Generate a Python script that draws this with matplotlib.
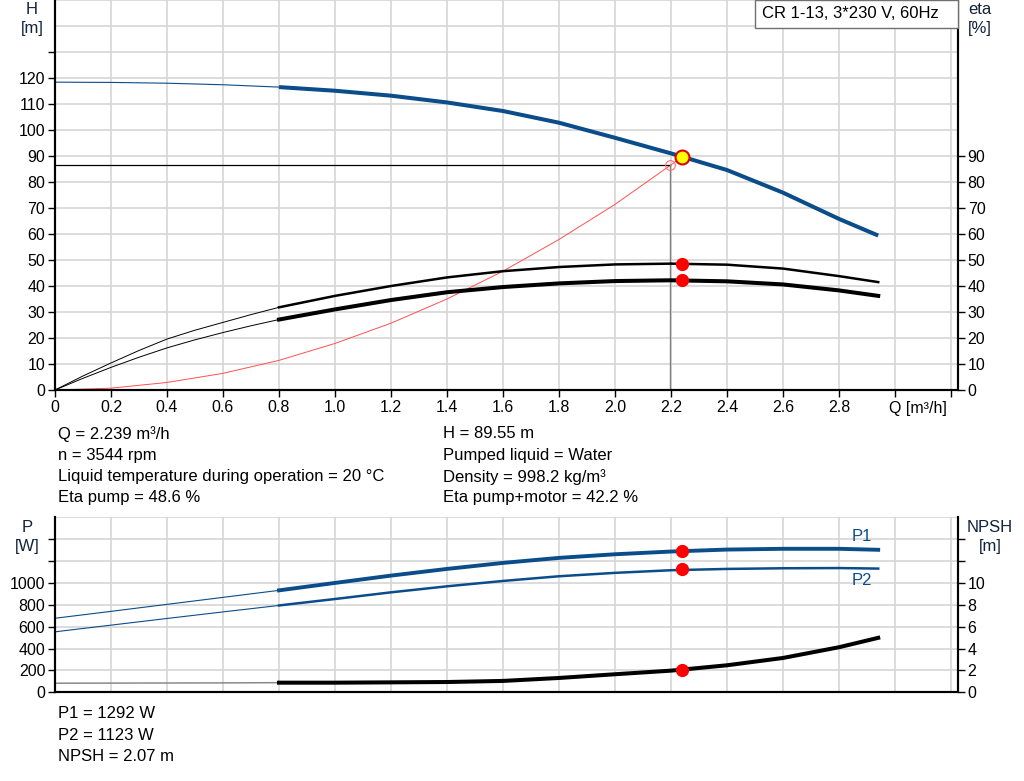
import matplotlib
matplotlib.use("Agg")
from matplotlib import pyplot as plt
from matplotlib.patches import Rectangle

plt.rcParams['font.family'] = ['Liberation Sans', 'DejaVu Sans']
plt.rcParams['font.size'] = 12

# curve values
q = [0, 0.2, 0.4, 0.6, 0.8, 1.0, 1.2, 1.4, 1.6, 1.8, 2.0, 2.2, 2.4, 2.6, 2.8, 2.94]
head = [118.4, 118.3, 118.0, 117.4, 116.5, 115.1, 113.2, 110.6, 107.3, 102.8, 97.0, 91.0, 84.6, 75.9, 65.8, 59.4]
p1 = [677, 740, 804, 868, 932, 1000, 1067, 1128, 1183, 1229, 1262, 1287, 1305, 1312, 1312, 1303]
p2 = [553, 614, 675, 735, 794, 853, 914, 969, 1018, 1061, 1092, 1116, 1128, 1134, 1136, 1131]
npsh = [0.83, 0.84, 0.85, 0.86, 0.88, 0.88, 0.91, 0.94, 1.04, 1.31, 1.65, 1.98, 2.47, 3.14, 4.12, 4.98]

q_eta = [0, 0.1, 0.2, 0.3, 0.4, 0.5, 0.6, 0.7, 0.8, 1.0, 1.2, 1.4, 1.6, 1.8, 2.0, 2.2, 2.4, 2.6, 2.8, 2.94]
eta_pump = [0, 5.4, 10.4, 15.2, 19.6, 23.0, 26.0, 29.0, 31.8, 36.2, 40.0, 43.3, 45.7, 47.3, 48.3, 48.6, 48.2, 46.7, 43.8, 41.5]
eta_total = [0, 4.5, 8.7, 12.6, 16.2, 19.3, 22.1, 24.7, 27.1, 31.0, 34.6, 37.6, 39.6, 41.0, 41.9, 42.2, 41.8, 40.6, 38.3, 36.2]

sys_q = [0, 0.2, 0.4, 0.6, 0.8, 1.0, 1.2, 1.4, 1.6, 1.8, 2.0, 2.239]
sys_h = [0, 0.7, 2.9, 6.4, 11.4, 17.9, 25.7, 35.0, 45.7, 57.9, 71.4, 89.55]

# duty point
q_op = 2.239
h_op = 89.55
eta_op = 48.6
eta_tot_op = 42.2
p1_op = 1292
p2_op = 1123
npsh_op = 2.07
q_ref = 2.196
h_ref = 86.5

split = 4      # thin part up to Q = 0.8 in q
split_eta = 8  # same in q_eta

info_left = ["Q = 2.239 m³/h", "n = 3544 rpm",
             "Liquid temperature during operation = 20 °C", "Eta pump = 48.6 %"]
info_right = ["H = 89.55 m", "Pumped liquid = Water",
              "Density = 998.2 kg/m³", "Eta pump+motor = 42.2 %"]
info_bottom = ["P1 = 1292 W", "P2 = 1123 W", "NPSH = 2.07 m"]

BLUE = '#0b4c8a'
GRID = '#d6d6d6'
LBL = '#12223a'
W, H = 1024, 781


def px(x, y):
    return x / W, 1 - y / H


fig = plt.figure(figsize=(W / 100, H / 100), dpi=100)

qticks = [round(0.2 * i, 1) for i in range(17)]
qlabels = [('0' if v == 0 else f'{v:.1f}') if v <= 2.8 else '' for v in qticks]


def style(a):
    a.spines['top'].set_visible(False)
    for s in ('left', 'right', 'bottom'):
        a.spines[s].set_linewidth(1.5)
    a.tick_params(direction='out', length=5, width=1, pad=2, labelsize=11.5)


# ---- top: head / efficiency ----
ax = fig.add_axes([55 / W, 1 - 390 / H, 903 / W, 390 / H])
ax.set_xlim(0, 3.225)
ax.set_ylim(0, 150)
ax.set_xticks(qticks)
ax.set_xticklabels(qlabels)
ax.set_yticks(range(0, 140, 10))
ax.set_yticklabels([str(v) if v <= 120 else '' for v in range(0, 140, 10)])
ax.set_yticks([140, 150], minor=True)
ax.tick_params(which='minor', length=0)
ax.grid(which='both', color=GRID, lw=1.2)
ax.set_axisbelow(True)
style(ax)

ax.plot(q[:split + 1], head[:split + 1], color=BLUE, lw=0.8)
ax.plot(q[split:], head[split:], color=BLUE, lw=2.9, solid_capstyle='butt')
ax.plot(sys_q, sys_h, color='#ff5050', lw=0.7)
ax.plot([0, q_ref], [h_ref, h_ref], color='black', lw=0.9)
ax.plot([q_ref, q_ref], [0, h_ref], color='#808080', lw=1.0)
ax.plot([q_ref], [h_ref], 'o', ms=7, mfc='none', mec='#ff7070', mew=0.8, zorder=5)
ax.plot([q_op], [h_op], 'o', ms=10, mfc='#ffff00', mec='#e00000', mew=1.5, zorder=6)

ax2 = ax.twinx()
ax2.set_ylim(0, 150)
ax2.set_yticks(range(0, 100, 10))
style(ax2)
ax2.plot(q_eta[:split_eta + 1], eta_pump[:split_eta + 1], color='black', lw=0.7)
ax2.plot(q_eta[split_eta:], eta_pump[split_eta:], color='black', lw=1.8)
ax2.plot(q_eta[:split_eta + 1], eta_total[:split_eta + 1], color='black', lw=0.7)
ax2.plot(q_eta[split_eta:], eta_total[split_eta:], color='black', lw=2.9)
ax2.plot([q_op, q_op], [eta_op, eta_tot_op], 'o', ms=8.5, color='#ff0000', zorder=5)

fig.text(*px(889, 408), "Q [m³/h]", va='center', fontsize=11.5)
fig.text(*px(32, 10), "H", ha='center', va='center', color=LBL)
fig.text(*px(32, 29), "[m]", ha='center', va='center', color=LBL)
fig.text(*px(980, 10), "eta", ha='center', va='center', color=LBL)
fig.text(*px(980, 29), "[%]", ha='center', va='center', color=LBL)

fig.patches.append(Rectangle(px(755, 28), 203 / W, 28 / H, transform=fig.transFigure,
                             facecolor='white', edgecolor='#707070', lw=1, zorder=10))
fig.text(*px(762, 14), "CR 1-13, 3*230 V, 60Hz", va='center', zorder=11)

for i, t in enumerate(info_left):
    fig.text(*px(58, 434 + i * 21.3), t, va='center')
for i, t in enumerate(info_right):
    fig.text(*px(443, 434 + i * 21.3), t, va='center')

# ---- bottom: power / NPSH ----
bx = fig.add_axes([55 / W, 1 - 692.3 / H, 903 / W, 175 / H])
bx.set_xlim(0, 3.225)
bx.set_ylim(0, 1600)
bx.set_xticks(qticks)
bx.set_yticks(range(0, 1600, 200))
bx.set_yticklabels([str(v) if v <= 1000 else '' for v in range(0, 1600, 200)])
bx.set_yticks([1600], minor=True)
bx.tick_params(which='minor', length=0)
bx.grid(which='both', color=GRID, lw=1.2)
bx.set_axisbelow(True)
style(bx)
bx.tick_params(axis='x', length=0, labelbottom=False)

bx.plot(q[:split + 1], p1[:split + 1], color=BLUE, lw=0.8)
bx.plot(q[split:], p1[split:], color=BLUE, lw=2.8)
bx.plot(q[:split + 1], p2[:split + 1], color=BLUE, lw=0.8)
bx.plot(q[split:], p2[split:], color=BLUE, lw=1.8)
bx.plot([q_op, q_op], [p1_op, p2_op], 'o', ms=8.5, color='#ff0000', zorder=5)
bx.text(2.88, 1420, "P1", color=BLUE, ha='center', va='center')
bx.text(2.88, 1020, "P2", color=BLUE, ha='center', va='center')

bx2 = bx.twinx()
bx2.set_ylim(0, 16)
bx2.set_yticks(range(0, 16, 2))
bx2.set_yticklabels([str(v) if v <= 10 else '' for v in range(0, 16, 2)])
style(bx2)
bx2.plot(q[:split + 1], npsh[:split + 1], color='#8a8a8a', lw=1.1)
bx2.plot(q[split:], npsh[split:], color='black', lw=2.9)
bx2.plot([q_op], [npsh_op], 'o', ms=8.5, color='#ff0000', zorder=5)

fig.text(*px(27, 527), "P", ha='center', va='center', color=LBL)
fig.text(*px(27, 547), "[W]", ha='center', va='center', color=LBL)
fig.text(*px(990, 527), "NPSH", ha='center', va='center', color=LBL)
fig.text(*px(990, 547), "[m]", ha='center', va='center', color=LBL)

for i, t in enumerate(info_bottom):
    fig.text(*px(58, 714 + i * 21.3), t, va='center')

fig.savefig("out.png", dpi=100)
